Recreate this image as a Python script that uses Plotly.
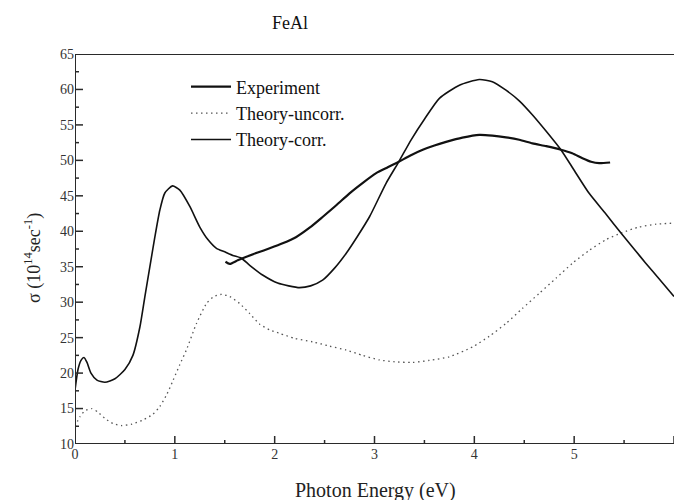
import plotly.graph_objects as go

# Experiment
exp_x = [1.507, 1.55, 1.63, 1.717, 1.83, 1.95, 2.08, 2.217, 2.35, 2.483, 2.62, 2.75, 2.88, 3.017, 3.13, 3.243, 3.36, 3.483, 3.6, 3.717, 3.88, 4.05, 4.18, 4.317, 4.45, 4.583, 4.72, 4.867, 4.98, 5.083, 5.17, 5.25, 5.36]
exp_y = [35.7, 35.4, 35.9, 36.4, 37.0, 37.6, 38.3, 39.2, 40.5, 42.05, 43.7, 45.35, 46.8, 48.2, 49.0, 49.8, 50.7, 51.5, 52.1, 52.6, 53.2, 53.6, 53.5, 53.25, 52.9, 52.4, 52.0, 51.5, 51.0, 50.3, 49.8, 49.6, 49.7]

# Theory-uncorr.
unc_x = [0.0, 0.05, 0.1, 0.167, 0.23, 0.3, 0.38, 0.467, 0.57, 0.683, 0.78, 0.85, 0.92, 0.983, 1.05, 1.117, 1.217, 1.317, 1.39, 1.467, 1.55, 1.65, 1.75, 1.85, 1.95, 2.05, 2.2, 2.383, 2.55, 2.717, 2.88, 3.05, 3.2, 3.383, 3.55, 3.75, 3.983, 4.15, 4.317, 4.48, 4.65, 4.82, 4.983, 5.15, 5.317, 5.48, 5.65, 5.82, 6.0]
unc_y = [12.5, 13.85, 14.7, 15.0, 14.5, 13.6, 12.9, 12.6, 12.8, 13.4, 14.2, 15.3, 17.0, 19.0, 21.2, 23.3, 27.0, 29.8, 30.8, 31.1, 30.8, 29.8, 28.4, 26.9, 26.1, 25.6, 24.9, 24.4, 23.8, 23.25, 22.5, 21.85, 21.6, 21.5, 21.8, 22.3, 23.7, 25.2, 27.0, 29.1, 31.25, 33.4, 35.5, 37.3, 38.8, 39.8, 40.6, 41.0, 41.15]

# Theory-corr.
cor_x = [0.0, 0.03, 0.06, 0.09, 0.12, 0.16, 0.22, 0.30, 0.40, 0.50, 0.58, 0.65, 0.70, 0.75, 0.80, 0.85, 0.90, 0.977, 1.05, 1.15, 1.25, 1.333, 1.417, 1.50, 1.58, 1.667, 1.75, 1.883, 2.03, 2.14, 2.25, 2.36, 2.48, 2.60, 2.717, 2.83, 2.95, 3.117, 3.243, 3.367, 3.50, 3.65, 3.85, 4.05, 4.18, 4.317, 4.45, 4.583, 4.72, 4.867, 5.0, 5.15, 5.32, 5.483, 5.6, 5.717, 5.85, 6.0]
cor_y = [17.6, 20.5, 21.8, 22.2, 21.5, 20.0, 19.0, 18.7, 19.2, 20.5, 22.5, 26.5, 30.8, 35.0, 39.2, 43.0, 45.4, 46.4, 45.8, 43.5, 40.6, 38.8, 37.6, 37.1, 36.6, 36.2, 35.2, 33.8, 32.7, 32.3, 32.05, 32.3, 33.1, 34.8, 36.9, 39.3, 42.05, 46.8, 49.8, 52.9, 55.8, 58.75, 60.6, 61.4, 61.1, 59.9, 58.4, 56.4, 54.1, 51.5, 48.6, 45.35, 42.4, 39.5, 37.5, 35.5, 33.3, 30.8]

# axis ranges and ticks
x_range = [0, 6]
y_range = [10, 65]
x_major = [0, 1, 2, 3, 4, 5, 6]
x_minor = [0.5, 1.5, 2.5, 3.5, 4.5, 5.5]
y_major = [10, 15, 20, 25, 30, 35, 40, 45, 50, 55, 60, 65]
y_minor = [12.5, 17.5, 22.5, 27.5, 32.5, 37.5, 42.5, 47.5, 52.5, 57.5, 62.5]

FONT = "Liberation Serif"
AX = "#2a2a2a"

W, H = 674, 500
ML, MR, MT, MB = 75, 0, 54, 56
px_x = (x_range[1] - x_range[0]) / (W - ML - MR)   # data units per pixel
px_y = (y_range[1] - y_range[0]) / (H - MT - MB)

fig = go.Figure()
fig.add_trace(go.Scatter(x=exp_x, y=exp_y, mode="lines", name="Experiment",
                         line=dict(color="#111111", width=2.2, shape="spline", smoothing=0.6)))
fig.add_trace(go.Scatter(x=unc_x, y=unc_y, mode="lines", name="Theory-uncorr.",
                         line=dict(color="#555555", width=1.3, dash="1.5px,3.5px", shape="spline", smoothing=0.6)))
fig.add_trace(go.Scatter(x=cor_x, y=cor_y, mode="lines", name="Theory-corr.",
                         line=dict(color="#111111", width=1.6, shape="spline", smoothing=0.6)))

# frame (top, left, bottom) built from the axis ranges
fig.add_trace(go.Scatter(
    x=[x_range[1], x_range[0], x_range[0], x_range[1]],
    y=[y_range[1], y_range[1], y_range[0], y_range[0]],
    mode="lines", line=dict(color=AX, width=2), showlegend=False,
    hoverinfo="skip", cliponaxis=False))

# inside tick marks built from the tick lists
tx, ty = [], []
for v, ln in [(v, 8) for v in x_major] + [(v, 4) for v in x_minor]:
    tx += [v, v, None]
    ty += [y_range[0], y_range[0] + ln * px_y, None]
for v, ln in [(v, 8) for v in y_major] + [(v, 4) for v in y_minor]:
    tx += [x_range[0], x_range[0] + ln * px_x, None]
    ty += [v, v, None]
fig.add_trace(go.Scatter(x=tx, y=ty, mode="lines", line=dict(color=AX, width=1.5),
                         showlegend=False, hoverinfo="skip", cliponaxis=False))

fig.update_layout(
    width=W, height=H,
    margin=dict(l=ML, r=MR, t=MT, b=MB, pad=0),
    paper_bgcolor="white", plot_bgcolor="white",
    font=dict(family=FONT, color="#222222"),
    showlegend=True,
    legend=dict(x=(186 - 75) / 599, y=0.963, xanchor="left", yanchor="top",
                bgcolor="rgba(0,0,0,0)", borderwidth=0,
                font=dict(family=FONT, size=18, color="#111111"),
                tracegroupgap=0, itemwidth=40),
    xaxis=dict(range=x_range, tickmode="array", tickvals=x_major,
               showline=False, ticks="", showgrid=False, zeroline=False,
               tickfont=dict(family=FONT, size=14, color="#333333")),
    yaxis=dict(range=y_range, tickmode="array", tickvals=y_major,
               showline=False, ticks="", showgrid=False, zeroline=False, ticksuffix="  ",
               tickfont=dict(family=FONT, size=14, color="#333333")),
    annotations=[
        dict(text="FeAl", xref="paper", yref="paper", x=(290 - 75) / 599, y=1 + (54 - 23) / 390,
             xanchor="center", yanchor="middle", showarrow=False,
             font=dict(family=FONT, size=18, color="#111111")),
        dict(text="Photon Energy (eV)", xref="paper", yref="paper", x=(375 - 75) / 599, y=-(490 - 444) / 390,
             xanchor="center", yanchor="middle", showarrow=False,
             font=dict(family=FONT, size=20, color="#222222")),
        dict(text="σ (10<sup>14</sup>sec<sup>-1</sup>)", xref="paper", yref="paper",
             x=(33 - 75) / 599, y=(444 - 258) / 390, textangle=-90,
             xanchor="center", yanchor="middle", showarrow=False,
             font=dict(family=FONT, size=18, color="#222222")),
    ],
)

fig.write_html("out.html")
